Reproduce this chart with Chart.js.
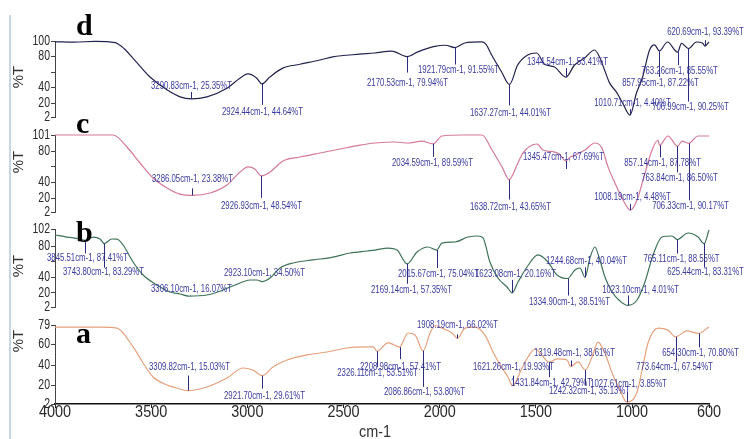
<!DOCTYPE html>
<html>
<head>
<meta charset="utf-8">
<script src="https://cdn.jsdelivr.net/npm/chart.js@4.4.1/dist/chart.umd.min.js"></script>
<style>
  html, body { margin: 0; padding: 0; background: #fff; }
  #wrap { position: relative; width: 750px; height: 439px; overflow: hidden; background: #fff; }
  #wrap canvas { position: absolute; left: 0; }
  .frame { position: absolute; left: 9px; top: 15px; width: 2px; height: 424px; background: #c9d6e8; }
  .tag { position: absolute; left: 76px; font: bold 30px 'Liberation Serif', 'Times New Roman', serif; line-height: 30px; color: #000; }
  .ylab { position: absolute; left: -1px; width: 40px; height: 20px; line-height: 20px; text-align: center;
          font: 15px 'Liberation Sans', Arial, sans-serif; color: #333; transform: rotate(-90deg); }
  .xlab { position: absolute; left: 345px; top: 422px; width: 60px; line-height: 20px; text-align: center;
          font: 17px 'Liberation Sans', Arial, sans-serif; color: #333; transform: scaleX(0.85); }
</style>
</head>
<body>
<div id="wrap">
  <div class="frame"></div>
  <canvas id="chart-d" width="750" height="136" style="top:11px"></canvas>
  <canvas id="chart-c" width="750" height="137" style="top:105px"></canvas>
  <canvas id="chart-b" width="750" height="138" style="top:199px"></canvas>
  <canvas id="chart-a" width="750" height="150" style="top:295px"></canvas>
  <div class="tag" style="top:10px">d</div>
  <div class="tag" style="top:108px">c</div>
  <div class="tag" style="top:217px">b</div>
  <div class="tag" style="top:318px">a</div>
  <div class="ylab" style="top:67px">%T</div>
  <div class="ylab" style="top:152px">%T</div>
  <div class="ylab" style="top:256px">%T</div>
  <div class="ylab" style="top:331px">%T</div>
  <div class="xlab">cm-1</div>
</div>
<script>
// espectro d
const dWn = [4000, 3900, 3790, 3688, 3640, 3595, 3506, 3418, 3350, 3210, 3106, 3039, 2997, 2951, 2883, 2816, 2727, 2623, 2556, 2416, 2338, 2249, 2114, 2026, 1970, 1870, 1782, 1760, 1730, 1678, 1595, 1543, 1496, 1455, 1403, 1299, 1247, 1195, 1169, 1143, 1117, 1081, 1049, 977, 945, 909, 883, 816, 743, 665, 634, 600];
const dT = [99, 98.5, 99.5, 98, 90, 78, 53.6, 37, 28, 28, 39, 52, 57.5, 52, 53.6, 65, 70, 75.5, 79.5, 83, 84.5, 87, 86, 93, 94.5, 97.4, 98.8, 96, 82, 60, 69, 82, 84.5, 70, 66.5, 69, 78, 88.4, 79.4, 62.6, 46, 34, 20, 33, 53.6, 88.4, 95, 98.7, 97, 98.7, 97.4, 98.7];
const dPeakWn = [3290.83, 2924.44, 2170.53, 1921.79, 1637.27, 1344.54, 1010.71, 857.95, 763.26, 706.99, 620.69];
const dPeakT = [25.35, 44.64, 79.94, 91.55, 44.01, 53.41, 4.40, 87.22, 85.55, 90.25, 93.39];

// espectro c
const cWn = [4000, 3850, 3698, 3626, 3558, 3490, 3418, 3350, 3194, 3106, 3038, 2997, 2960, 2882, 2815, 2726, 2622, 2518, 2414, 2336, 2232, 2165, 2092, 1988, 1884, 1780, 1728, 1676, 1598, 1567, 1494, 1463, 1401, 1375, 1318, 1297, 1245, 1193, 1156, 1125, 1089, 1052, 974, 943, 896, 865, 813, 740, 657, 600];
const cT = [101, 101, 101, 85.6, 65, 45.7, 32.9, 25, 26.4, 36.7, 53.4, 59.9, 57, 53.4, 67.6, 72.7, 77.9, 83, 88, 90.7, 92, 90.7, 93, 99.7, 101, 101, 81.7, 60, 62.4, 77.9, 89.4, 81.7, 79, 76, 73, 75, 81.7, 90.7, 84, 60, 39.3, 20, 17.4, 43, 81.7, 94.6, 99.7, 93, 99.7, 99.7];
const cPeakWn = [3286.05, 2926.93, 2034.59, 1638.72, 1345.47, 1008.19, 857.14, 763.84, 706.33];
const cPeakT = [23.38, 48.54, 89.59, 43.65, 67.69, 4.48, 87.78, 86.50, 90.17];

// espectro b
const bWn = [4000, 3938, 3870, 3802, 3766, 3704, 3678, 3646, 3594, 3542, 3470, 3402, 3350, 3210, 3127, 3038, 2986, 2950, 2882, 2830, 2763, 2659, 2555, 2466, 2378, 2336, 2269, 2222, 2118, 2061, 1988, 1920, 1853, 1801, 1775, 1739, 1697, 1650, 1593, 1546, 1489, 1437, 1390, 1297, 1271, 1219, 1193, 1172, 1141, 1104, 1063, 974, 933, 891, 844, 792, 709, 657, 600];
const bT = [94.3, 91.7, 89.2, 91.7, 89.2, 89.2, 89, 81.5, 59.7, 43, 30.2, 21.2, 18.7, 17.4, 23.8, 32.8, 36.6, 36.6, 39.2, 52, 58.4, 62.3, 66, 71.2, 73.8, 75, 77.6, 75, 72.5, 78.9, 84, 85.3, 91.7, 93, 90.5, 59.7, 39.2, 27.6, 34, 53.3, 68.7, 59.7, 43, 49.4, 52, 64.8, 78.9, 66, 40.5, 21.2, 9.7, 11, 34, 68.7, 91.7, 93, 96.9, 91.7, 100.7];
const bPeakWn = [3845.51, 3743.80, 3306.10, 2923.10, 2169.14, 2015.67, 1623.08, 1334.90, 1244.68, 1023.10, 765.11, 625.44];
const bPeakT = [87.41, 83.29, 16.07, 34.50, 57.35, 75.04, 20.16, 38.51, 40.04, 4.01, 88.55, 83.31];

// espectro a
const aWn = [4000, 3854, 3766, 3678, 3594, 3542, 3490, 3418, 3366, 3210, 3106, 3023, 2971, 2867, 2794, 2690, 2586, 2482, 2378, 2345, 2269, 2240, 2165, 2128, 2050, 2024, 1988, 1936, 1868, 1816, 1765, 1723, 1676, 1645, 1572, 1541, 1505, 1469, 1390, 1338, 1281, 1208, 1177, 1141, 1104, 1063, 974, 948, 917, 865, 813, 714, 600];
const aT = [77, 77, 77, 76, 57.6, 42, 28.3, 20.5, 17.6, 18.6, 27.3, 37.1, 35.1, 38, 44.9, 49.8, 52.7, 56.6, 57.6, 57.6, 61.5, 60, 71.2, 69.3, 71.2, 78.5, 76, 71.2, 76, 77, 69.3, 52.7, 37.1, 28.3, 37.1, 47.8, 55.6, 49.8, 45.9, 44.9, 43, 47.8, 62.4, 51.7, 32.2, 15.6, 13.7, 35, 61.5, 76, 74, 73.2, 77];
const aPeakWn = [3309.82, 2921.70, 2326.11, 2208.98, 2086.86, 1908.19, 1621.26, 1431.84, 1319.48, 1242.32, 1027.61, 773.64, 654.30];
const aPeakT = [15.03, 29.61, 53.51, 57.41, 53.80, 66.02, 19.93, 42.79, 38.61, 35.13, 3.85, 67.54, 70.80];

const xTicks = [4000, 3500, 3000, 2500, 2000, 1500, 1000, 600];

// onde fica o texto de cada pico: [dx, dy do texto, comprimento do traço]
const dLabelPos = [[0, -13, -7], [0, 28, 21], [0, 27, 16], [3, 23, 17], [1, 29, 21], [1, -15, -9], [2, -12, -6], [1, 32, 26], [1, 19, 13], [2, 59, 53], [0, -14, -6]];
const cLabelPos = [[0, -16, -7], [0, 30, 22], [-1, 19, 13], [1, 28, 20], [-3, -4, 8], [2, -13, -6], [2, 18, 12], [2, 32, 26], [1, 63, 57]];
const bLabelPos = [[2, 18, 13], [-1, 29, 24], [3, -7, 0], [2, -8, 0], [4, 26, 20], [1, 24, 18], [3, -19, -13], [1, 24, 17], [1, -16, -10], [12, -15, -10], [4, 20, 14], [1, 29, 24]];
const aLabelPos = [[1, -23, -15], [2, 21, 13], [0, 22, 16], [0, 20, 12], [1, 41, 36], [0, -13, -4], [0, -18, -10], [2, 21, 15], [3, -13, -6], [4, 21, 15], [1, -18, -10], [-2, 30, 25], [1, 20, 14]];

const sansFont = '"Liberation Sans", Arial, sans-serif';

// junta a curva com os picos marcados, ordenado por número de onda
function buildPoints(wn, t, peakWn, peakT) {
    const pts = wn.map((w, i) => ({ x: w, y: t[i] }));
    peakWn.forEach((w, i) => pts.push({ x: w, y: peakT[i] }));
    return pts.sort((p, q) => q.x - p.x);
}

// texto estreito (tipo Arial Narrow): mede e comprime na largura
function narrowText(ctx, txt, x, y, squeeze) {
    ctx.fillText(txt, x, y, ctx.measureText(txt).width * squeeze);
}

// plugin que escreve os rótulos dos picos e o traço até a curva
const peakLabels = {
    id: 'peakLabels',
    afterDatasetsDraw(chart, args, opts) {
        const { ctx } = chart;
        const x = chart.scales.x, y = chart.scales.y;
        ctx.save();
        ctx.font = '10px ' + sansFont;
        ctx.textAlign = 'center';
        ctx.textBaseline = 'middle';
        ctx.lineWidth = 1;
        opts.wn.forEach((wn, i) => {
            const px = Math.round(x.getPixelForValue(wn)) + 0.5;
            const py = y.getPixelForValue(opts.t[i]);
            const [dx, dy, ly] = opts.pos[i];
            if (ly) {
                ctx.strokeStyle = '#2b2b80';
                ctx.beginPath();
                ctx.moveTo(px, py);
                ctx.lineTo(px, py + ly);
                ctx.stroke();
            }
            const txt = wn.toFixed(2) + 'cm-1, ' + opts.t[i].toFixed(2) + '%T';
            ctx.fillStyle = '#3a3a9e';
            narrowText(ctx, txt, px + dx, py + dy, 0.78);
        });
        ctx.restore();
    }
};

// rótulos dos eixos desenhados à mão para ficarem estreitos
const axisLabels = {
    id: 'axisLabels',
    afterDraw(chart, args, opts) {
        const { ctx } = chart;
        const x = chart.scales.x, y = chart.scales.y;
        ctx.save();
        ctx.fillStyle = '#2a2a2a';
        ctx.font = '14px ' + sansFont;
        ctx.textAlign = 'right';
        ctx.textBaseline = 'middle';
        y.ticks.forEach(t => {
            if (t.value === 60 && y.max > 80) return;
            narrowText(ctx, String(t.value), y.right - 5, y.getPixelForValue(t.value), 0.75);
        });
        if (opts.showX) {
            ctx.font = '17px ' + sansFont;
            ctx.textAlign = 'center';
            ctx.textBaseline = 'top';
            x.ticks.forEach(t => {
                narrowText(ctx, String(t.value), x.getPixelForValue(t.value), x.top, 0.85);
            });
        }
        ctx.restore();
    }
};

function makePanel(id, opt) {
    const ctx = document.getElementById(id);
    const showX = !!opt.showX;
    return new Chart(ctx, {
        type: 'line',
        data: {
            datasets: [{
                data: buildPoints(opt.wn, opt.t, opt.peakWn, opt.peakT),
                borderColor: opt.color,
                borderWidth: 1.2,
                pointRadius: 0,
                fill: false,
                cubicInterpolationMode: 'monotone',
                clip: 4
            }]
        },
        options: {
            responsive: false,
            animation: false,
            devicePixelRatio: 1,
            layout: { padding: { left: 0, right: 41, top: 30, bottom: showX ? 0 : 30 } },
            plugins: {
                legend: { display: false },
                tooltip: { enabled: false },
                peakLabels: { wn: opt.peakWn, t: opt.peakT, pos: opt.pos },
                axisLabels: { showX }
            },
            scales: {
                x: {
                    type: 'linear',
                    min: 600,
                    max: 4000,
                    reverse: true,
                    display: showX,
                    afterFit(s) { if (showX) s.height = 41; },
                    afterBuildTicks(s) { s.ticks = xTicks.map(v => ({ value: v })); },
                    grid: { drawOnChartArea: false, tickLength: 4, color: '#222' },
                    border: { display: true, color: '#111', width: 1.5 },
                    ticks: { display: false }
                },
                y: {
                    min: 2,
                    max: opt.max,
                    afterFit(s) { s.width = 55; },
                    afterBuildTicks(s) { s.ticks = opt.yTicks.map(v => ({ value: v })); },
                    grid: { drawOnChartArea: false, tickLength: 4, color: '#444' },
                    border: { display: true, color: '#444', width: 1 },
                    ticks: { display: false }
                }
            }
        },
        plugins: [peakLabels, axisLabels]
    });
}

makePanel('chart-d', { wn: dWn, t: dT, peakWn: dPeakWn, peakT: dPeakT, pos: dLabelPos,
    color: '#23234f', max: 100, yTicks: [2, 20, 40, 60, 80, 100] });
makePanel('chart-c', { wn: cWn, t: cT, peakWn: cPeakWn, peakT: cPeakT, pos: cLabelPos,
    color: '#d4789c', max: 101, yTicks: [2, 20, 40, 60, 80, 101] });
makePanel('chart-b', { wn: bWn, t: bT, peakWn: bPeakWn, peakT: bPeakT, pos: bLabelPos,
    color: '#3d7358', max: 102, yTicks: [2, 20, 40, 60, 80, 102] });
makePanel('chart-a', { wn: aWn, t: aT, peakWn: aPeakWn, peakT: aPeakT, pos: aLabelPos,
    color: '#e6a07c', max: 79, yTicks: [2, 20, 40, 60, 79], showX: true });
</script>
</body>
</html>
